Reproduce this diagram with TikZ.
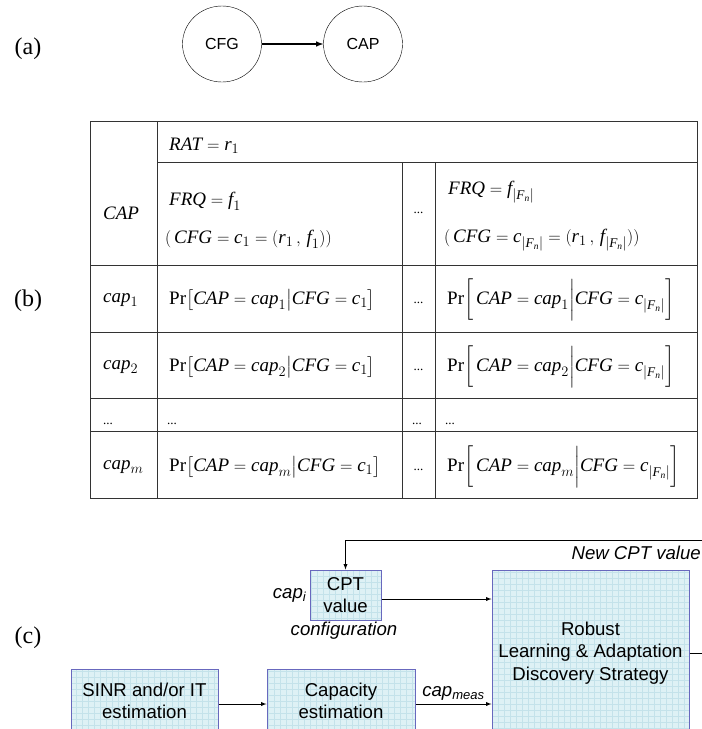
\documentclass[tikz,border=0pt]{standalone}
\usepackage{amsmath}
\usepackage{fontspec}
\setmainfont{Liberation Serif}
\setsansfont{Liberation Sans}
\usetikzlibrary{positioning,shapes.geometric}

\definecolor{boxfill}{RGB}{222,241,245}
\definecolor{boxgrid}{RGB}{196,226,234}
\definecolor{boxline}{RGB}{104,104,190}

\newcommand{\itvar}[1]{\textit{#1}}
\newcommand{\Fn}{{|\itvar{F}_{\itvar{n}}|}}

\tikzset{
  lbl/.style={font=\fontsize{24}{26}\selectfont},
  bn/.style={ellipse, draw, minimum width=79pt, minimum height=76pt,
    font=\sffamily\fontsize{16}{18}\selectfont},
  cell/.style={anchor=west, inner sep=0pt, font=\fontsize{19}{22}\selectfont},
  dots/.style={inner sep=0pt, font=\fontsize{13}{15}\selectfont},
  blk/.style={draw=boxline, line width=1pt, fill=boxfill, align=center,
    font=\sffamily\fontsize{18.6}{22.5}\selectfont,
    path picture={\draw[boxgrid, line width=0.4pt]
      (path picture bounding box.south west) grid[step=6pt]
      (path picture bounding box.north east);}},
  note/.style={font=\sffamily\itshape\fontsize{18.6}{22}\selectfont, inner sep=1pt},
}

\begin{document}
\begin{tikzpicture}[x=1pt, y=-1pt, >=latex]
  \useasboundingbox (0,0) rectangle (702,729);
  \clip (0,0) rectangle (702,729);

  % (a) the two-node net
  \node[lbl] (la) at (28,49) {(a)};
  \node[bn] (cfg) at (222,44) {CFG};
  \node[bn] (cap) at (363,44) {CAP};
  \draw[->, line width=1.5pt] (cfg) -- (cap);

  % (b) conditional probability table
  \node[lbl] (lb) at (28,301) {(b)};
  \begin{scope}[black!80, line width=0.8pt]
    \draw (90,121) rectangle (697,498);
    \draw (157,121) -- (157,498);
    \draw (157,162) -- (697,162);
    \foreach \y in {265,332,398,431}
      \draw (90,\y) -- (697,\y);
    \foreach \x in {402,435}
      \draw (\x,162) -- (\x,498);
  \end{scope}

  \node[cell] (hcap) at (103,213) {\itvar{CAP}};
  \node[cell] (rat) at (169,146) {$\itvar{RAT} = \itvar{r}_1$};
  \node[cell] (frq1) at (169,201) {$\itvar{FRQ} = \itvar{f}_1$};
  \node[cell] (cfg1) at (165,239)
    {$(\,\itvar{CFG} = \itvar{c}_1 =(\itvar{r}_1\,,\,\itvar{f}_1))$};
  \node[dots] (hdots) at (418.5,213) {...};
  \node[cell] (frqn) at (448,192) {$\itvar{FRQ} = \itvar{f}_{\Fn}$};
  \node[cell] (cfgn) at (444,240)
    {$(\,\itvar{CFG} = \itvar{c}_{\Fn} =(\itvar{r}_1\,,\,\itvar{f}_{\Fn}))$};

  \foreach \k/\y in {1/300, 2/367, m/467} {
    \node[cell] (row\k) at (103,\y) {$\itvar{cap}_\k$};
    \node[cell] (pl\k) at (169,\y)
      {$\textup{Pr}\bigl[\itvar{CAP} = \itvar{cap}_\k \big| \itvar{CFG} = \itvar{c}_1\bigr]$};
    \node[dots] (md\k) at (418.5,\y+3) {...};
    \node[cell] (pr\k) at (447,\y)
      {$\textup{Pr}\biggl[\,\itvar{CAP} = \itvar{cap}_\k \bigg| \itvar{CFG} = \itvar{c}_{\Fn}\biggr]$};
  }
  \foreach \x/\n in {103/a, 167/b, 412/c, 445/d}
    \node[dots, anchor=west] (gap\n) at (\x,424) {...};

  % (c) learning loop
  \node[lbl] (lc) at (28,638) {(c)};
  \node[blk, minimum width=71pt, minimum height=50pt] (cpt) at (345.5,595) {CPT\\value};
  \node[blk, minimum width=197pt, minimum height=166pt] (robust) at (590.5,653)
    {Robust\\Learning \& Adaptation\\Discovery Strategy};
  \node[blk, minimum width=147pt, minimum height=64pt] (sinr) at (144.5,701)
    {SINR and/or IT\\estimation};
  \node[blk, minimum width=148pt, minimum height=64pt] (capest) at (341,701)
    {Capacity\\estimation};

  \node[note, left=2pt of cpt] (capi) {cap\textsubscript{i}};
  \node[note] (conf) at (344,631) {configuration};
  \node[note, anchor=east] (newcpt) at (702,553) {New CPT value};

  \coordinate (turn) at (712,540);
  \begin{scope}[line width=0.9pt]
    \draw[->] ([yshift=-4pt]cpt.east) -- ([yshift=-4pt]cpt.east -| robust.west);
    \draw[->] ([yshift=-3pt]sinr.east) -- ([yshift=-3pt]capest.west);
    \draw[->] ([yshift=-3pt]capest.east) -- ([yshift=-3pt]capest.east -| robust.west)
      node[note, midway, above=2pt] (capm) {cap\textsubscript{meas}};
    \draw[->] (robust.east) -| (turn) -| (cpt.north);
  \end{scope}
\end{tikzpicture}
\end{document}
